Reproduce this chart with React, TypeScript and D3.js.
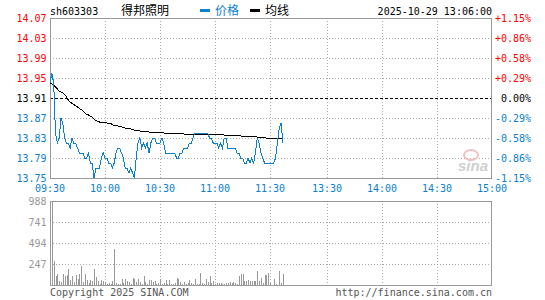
import React, { useEffect, useRef } from "react";
import * as d3 from "d3";

// Intraday minute chart (sina style): price + average line on top, volume bars below.
const code = "sh603303";
const stockName = "得邦照明";
const stamp = "2025-10-29 13:06:00";
const prevClose = 13.91;

const timeLabels = ["09:30", "10:00", "10:30", "11:00", "11:30", "13:30", "14:00", "14:30", "15:00"];
const timeSlots = [0, 30, 60, 90, 120, 151, 181, 211, 241];
const priceTicks = [14.07, 14.03, 13.99, 13.95, 13.91, 13.87, 13.83, 13.79, 13.75];
const pctTicks = ["+1.15%", "+0.86%", "+0.58%", "+0.29%", "0.00%", "-0.29%", "-0.58%", "-0.86%", "-1.15%"];
const volTicks = [988, 741, 494, 247];

// one value per minute, 09:30 .. 11:30 then 13:00 .. 13:06
const price = [
  13.94, 13.96, 13.94, 13.84, 13.82, 13.83, 13.87, 13.86, 13.83, 13.82,
  13.82, 13.81, 13.83, 13.82, 13.82, 13.81, 13.80, 13.80, 13.80, 13.79,
  13.79, 13.80, 13.78, 13.78, 13.75, 13.77, 13.77, 13.77, 13.79, 13.80,
  13.79, 13.79, 13.78, 13.78, 13.77, 13.78, 13.80, 13.81, 13.81, 13.80,
  13.79, 13.77, 13.77, 13.76, 13.77, 13.76, 13.75, 13.79, 13.82, 13.83,
  13.81, 13.82, 13.81, 13.82, 13.80, 13.82, 13.83, 13.83, 13.82, 13.82,
  13.82, 13.83, 13.82, 13.80, 13.80, 13.80, 13.80, 13.80, 13.80, 13.79,
  13.79, 13.80, 13.80, 13.81, 13.81, 13.81, 13.82, 13.82, 13.83, 13.84,
  13.84, 13.84, 13.84, 13.84, 13.84, 13.84, 13.84, 13.83, 13.83, 13.82,
  13.82, 13.82, 13.81, 13.82, 13.81, 13.83, 13.83, 13.81, 13.81, 13.81,
  13.81, 13.81, 13.80, 13.80, 13.79, 13.79, 13.78, 13.78, 13.79, 13.78,
  13.79, 13.78, 13.80, 13.83, 13.82, 13.80, 13.79, 13.78, 13.78, 13.78,
  13.78, 13.78, 13.78, 13.79, 13.82, 13.85, 13.86, 13.82,
];

const avgPrice = [
  13.940, 13.938, 13.936, 13.932, 13.928, 13.924, 13.922, 13.920, 13.917, 13.912,
  13.906, 13.902, 13.899, 13.897, 13.894, 13.892, 13.889, 13.887, 13.884, 13.880,
  13.877, 13.876, 13.874, 13.872, 13.868, 13.865, 13.863, 13.862, 13.861, 13.861,
  13.861, 13.860, 13.860, 13.859, 13.857, 13.855, 13.855, 13.854, 13.853, 13.852,
  13.851, 13.850, 13.849, 13.849, 13.848, 13.847, 13.846, 13.845, 13.845, 13.844,
  13.844, 13.843, 13.843, 13.843, 13.842, 13.842, 13.842, 13.842, 13.841, 13.841,
  13.841, 13.841, 13.840, 13.840, 13.840, 13.840, 13.840, 13.839, 13.839, 13.839,
  13.839, 13.839, 13.839, 13.838, 13.838, 13.838, 13.838, 13.838, 13.838, 13.838,
  13.838, 13.838, 13.838, 13.838, 13.838, 13.838, 13.838, 13.838, 13.837, 13.837,
  13.837, 13.837, 13.837, 13.837, 13.837, 13.836, 13.836, 13.836, 13.836, 13.836,
  13.835, 13.835, 13.835, 13.835, 13.834, 13.834, 13.834, 13.834, 13.834, 13.833,
  13.833, 13.833, 13.833, 13.832, 13.832, 13.832, 13.831, 13.831, 13.830, 13.830,
  13.830, 13.829, 13.829, 13.829, 13.829, 13.829, 13.829, 13.829,
];

const volume = [
  141, 988, 282, 106, 130, 47, 35, 130, 106, 118,
  188, 59, 106, 35, 118, 71, 130, 223, 35, 130,
  59, 24, 59, 47, 188, 94, 47, 16, 59, 47,
  35, 16, 24, 16, 47, 423, 24, 12, 12, 71,
  24, 71, 47, 35, 16, 80, 65, 35, 71, 35,
  16, 106, 35, 12, 59, 59, 35, 47, 16, 24,
  71, 16, 24, 59, 12, 59, 12, 12, 24, 82,
  71, 35, 16, 35, 12, 24, 59, 24, 12, 71,
  16, 12, 141, 24, 12, 71, 35, 106, 24, 47,
  12, 24, 24, 24, 12, 12, 24, 24, 35, 24,
  35, 24, 12, 106, 130, 130, 47, 47, 59, 47,
  47, 47, 47, 165, 47, 82, 24, 118, 118, 141,
  24, 0, 71, 12, 0, 165, 24, 130,
];

export default function App() {
  const ref = useRef<SVGSVGElement>(null);

  useEffect(() => {
    const svg = d3.select(ref.current);
    svg.selectAll("*").remove();

    const left = 50, right = 492;
    const pTop = 18, pBottom = 178;
    const vTop = 201, vBottom = 285;
    const mono = "'DejaVu Sans Mono', monospace";
    const cjk = "'Noto Sans CJK SC', sans-serif";
    const blue = "#0a80d0";
    const red = "#ff0000";
    const grid = "#aaaaaa";
    const px = (v: number) => Math.round(v) + 0.5;

    const x = d3.scaleLinear().domain([0, 241]).range([left, right]);
    const y = d3.scaleLinear().domain([13.75, 14.07]).range([pBottom, pTop]);
    const yv = d3.scaleLinear().domain([0, 988]).range([vBottom, vTop]);

    svg.append("rect").attr("width", 545).attr("height", 300).attr("fill", "#fff");

    // vertical grid in both panels
    const vg = svg.append("g").attr("stroke", grid).attr("stroke-dasharray", "1,2").attr("shape-rendering", "crispEdges");
    timeSlots.slice(1, -1).forEach((s) => {
      vg.append("line").attr("x1", px(x(s))).attr("x2", px(x(s))).attr("y1", pTop).attr("y2", pBottom);
      vg.append("line").attr("x1", px(x(s))).attr("x2", px(x(s))).attr("y1", vTop).attr("y2", vBottom);
    });
    priceTicks.slice(1, -1).forEach((t) => {
      if (t === prevClose) return;
      vg.append("line").attr("x1", left).attr("x2", right).attr("y1", px(y(t))).attr("y2", px(y(t)));
    });
    volTicks.slice(1).forEach((t) => {
      vg.append("line").attr("x1", left).attr("x2", right).attr("y1", px(yv(t))).attr("y2", px(yv(t)));
    });

    // previous close
    svg.append("line")
      .attr("x1", left).attr("x2", right)
      .attr("y1", px(y(prevClose))).attr("y2", px(y(prevClose)))
      .attr("stroke", "#000").attr("stroke-dasharray", "3,2").attr("shape-rendering", "crispEdges");

    // frames
    [[pTop, pBottom], [vTop, vBottom]].forEach(([t, b]) => {
      svg.append("rect")
        .attr("x", left + 0.5).attr("y", t + 0.5)
        .attr("width", right - left - 1).attr("height", b - t)
        .attr("fill", "none").attr("stroke", "#999").attr("shape-rendering", "crispEdges");
    });

    // watermark
    svg.append("ellipse").attr("cx", 471).attr("cy", 155).attr("rx", 7).attr("ry", 5)
      .attr("fill", "none").attr("stroke", "#f2c0c0").attr("stroke-width", 2);
    svg.append("text").attr("x", 473).attr("y", 171).attr("text-anchor", "middle")
      .attr("font-family", "'Liberation Sans', sans-serif").attr("font-size", 15)
      .attr("font-weight", "bold").attr("font-style", "italic").attr("fill", "#cfcfcf").text("sina");

    // volume bars
    svg.append("g").attr("shape-rendering", "crispEdges")
      .selectAll("rect").data(volume).join("rect")
      .attr("x", (_, i) => Math.round(x(i)))
      .attr("y", (d) => Math.round(yv(d)))
      .attr("width", 1)
      .attr("height", (d) => vBottom - Math.round(yv(d)))
      .attr("fill", "#999");

    // average and price lines
    const line = d3.line<number>().x((_, i) => x(i)).y((d) => y(d));
    svg.append("path").datum(avgPrice).attr("d", line).attr("fill", "none")
      .attr("stroke", "#000").attr("stroke-width", 1).attr("shape-rendering", "crispEdges");
    svg.append("path").datum(price).attr("d", line).attr("fill", "none")
      .attr("stroke", blue).attr("stroke-width", 1).attr("shape-rendering", "crispEdges");

    // axis labels
    const txt = svg.append("g").attr("font-family", mono).attr("font-size", 10);
    priceTicks.forEach((t, i) => {
      const c = t > prevClose ? red : t < prevClose ? blue : "#000";
      txt.append("text").attr("x", 46.5).attr("y", y(t)).attr("dy", "0.35em")
        .attr("text-anchor", "end").attr("fill", c).text(t.toFixed(2));
      txt.append("text").attr("x", 531).attr("y", y(t)).attr("dy", "0.35em")
        .attr("text-anchor", "end").attr("fill", c).text(pctTicks[i]);
    });
    volTicks.forEach((t) => {
      txt.append("text").attr("x", 46.5).attr("y", yv(t)).attr("dy", "0.35em")
        .attr("text-anchor", "end").attr("fill", "#999").text(t);
    });
    timeLabels.forEach((l, i) => {
      txt.append("text").attr("x", x(timeSlots[i])).attr("y", 192)
        .attr("text-anchor", "middle").attr("fill", blue).text(l);
    });

    // header
    txt.append("text").attr("x", 50).attr("y", 15).attr("fill", "#000").text(code);
    txt.append("text").attr("x", 492).attr("y", 15).attr("text-anchor", "end").attr("fill", "#000").text(stamp);
    svg.append("text").attr("x", 121).attr("y", 15).attr("font-family", cjk).attr("font-size", 12)
      .attr("fill", "#000").text(stockName);
    svg.append("rect").attr("x", 200).attr("y", 9).attr("width", 10).attr("height", 3).attr("fill", blue);
    svg.append("text").attr("x", 215).attr("y", 15).attr("font-family", cjk).attr("font-size", 12)
      .attr("fill", blue).text("价格");
    svg.append("rect").attr("x", 250).attr("y", 9).attr("width", 10).attr("height", 3).attr("fill", "#000");
    svg.append("text").attr("x", 265).attr("y", 15).attr("font-family", cjk).attr("font-size", 12)
      .attr("fill", "#000").text("均线");

    // footer
    txt.append("text").attr("x", 50).attr("y", 296).attr("fill", "#555").text("Copyright 2025 SINA.COM");
    txt.append("text").attr("x", 492).attr("y", 296).attr("text-anchor", "end").attr("fill", "#555")
      .text("http://finance.sina.com.cn");
  }, []);

  return (
    <svg
      ref={ref}
      width={545}
      height={300}
      style={{ position: "absolute", left: 0, top: 0, display: "block" }}
    />
  );
}
